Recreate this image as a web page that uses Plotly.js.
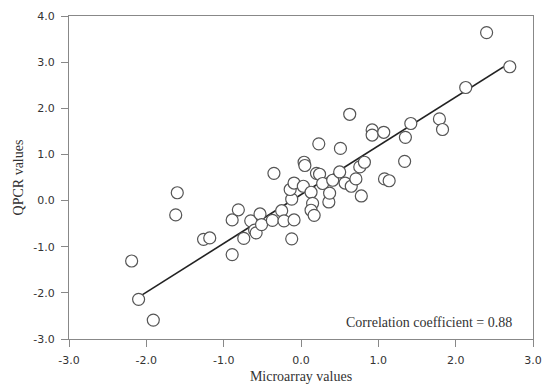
<!DOCTYPE html>
<html>
<head>
<meta charset="utf-8">
<script src="https://cdn.plot.ly/plotly-3.0.1.min.js"></script>
<style>html,body{margin:0;padding:0;background:#fff;}#chart{width:543px;height:385px;}</style>
</head>
<body>
<div id="chart"></div>
<script>
const microarray = [-2.19,-2.10,-1.91,-1.60,-1.62,-1.26,-1.18,-0.89,-0.89,-0.81,-0.74,-0.65,-0.60,-0.58,-0.53,-0.51,-0.35,-0.37,-0.25,-0.22,-0.09,-0.12,-0.12,-0.14,-0.09,0.03,0.04,0.05,0.13,0.15,0.13,0.17,0.20,0.24,0.23,0.28,0.36,0.37,0.41,0.50,0.51,0.57,0.63,0.65,0.71,0.76,0.82,0.78,0.92,0.92,1.07,1.08,1.14,1.34,1.35,1.42,1.79,1.83,2.13,2.40,2.70];
const qpcr = [-1.31,-2.14,-2.59,0.17,-0.31,-0.84,-0.81,-1.17,-0.42,-0.20,-0.82,-0.44,-0.64,-0.70,-0.29,-0.52,0.59,-0.43,-0.22,-0.44,-0.42,-0.83,0.03,0.24,0.38,0.31,0.83,0.76,0.18,-0.06,-0.21,-0.32,0.59,0.57,1.23,0.37,-0.03,0.16,0.44,0.62,1.13,0.38,1.87,0.31,0.47,0.73,0.83,0.10,1.53,1.42,1.48,0.47,0.43,0.85,1.37,1.67,1.77,1.54,2.45,3.64,2.90];
const fitX = [-2.1, 2.7];
const fitSlope = 1.057;
const fitIntercept = 0.128;
const xTickVals = [-3,-2,-1,0,1,2,3];
const xTickText = ["-3.0","-2.0","-1.0","0.0","1.0","2.0","3.0"];
const yTickVals = [-3,-2,-1,0,1,2,3,4];
const yTickText = ["-3.0","-2.0","-1.0","0.0","1.0","2.0","3.0","4.0"];
const corrText = "Correlation coefficient = 0.88";

const fitY = fitX.map(x => fitIntercept + fitSlope * x);

const traces = [
  {x: fitX, y: fitY, mode: 'lines', type: 'scatter', line: {color: '#222', width: 1.6}, hoverinfo: 'skip', showlegend: false},
  {x: microarray, y: qpcr, mode: 'markers', type: 'scatter',
   marker: {size: 12, color: '#ffffff', line: {color: '#555', width: 1.2}}, showlegend: false}
];

const axisCommon = {
  showgrid: false, zeroline: false, showline: true, linecolor: '#888', linewidth: 1,
  mirror: true, ticks: 'outside', ticklen: 7, tickwidth: 1, tickcolor: '#888',
  tickfont: {family: 'DejaVu Sans', size: 11, color: '#333'}, ticklabelstandoff: 4
};

const layout = {
  width: 543, height: 385,
  margin: {l: 69, r: 10, t: 16, b: 46},
  paper_bgcolor: '#fff', plot_bgcolor: '#fff',
  xaxis: Object.assign({}, axisCommon, {
    range: [-3, 3], tickvals: xTickVals, ticktext: xTickText,
    title: {text: 'Microarray values', font: {family: 'Liberation Serif', size: 14, color: '#333'}, standoff: 4}
  }),
  yaxis: Object.assign({}, axisCommon, {
    range: [-3, 4], tickvals: yTickVals, ticktext: yTickText,
    title: {text: 'QPCR values', font: {family: 'Liberation Serif', size: 14, color: '#333'}, standoff: 6}
  }),
  annotations: [{
    x: 2.75, y: -2.65, xref: 'x', yref: 'y', text: corrText, showarrow: false,
    xanchor: 'right', yanchor: 'middle',
    font: {family: 'Liberation Serif', size: 14, color: '#333'}
  }]
};

Plotly.newPlot('chart', traces, layout, {displayModeBar: false, staticPlot: true});
</script>
</body>
</html>
